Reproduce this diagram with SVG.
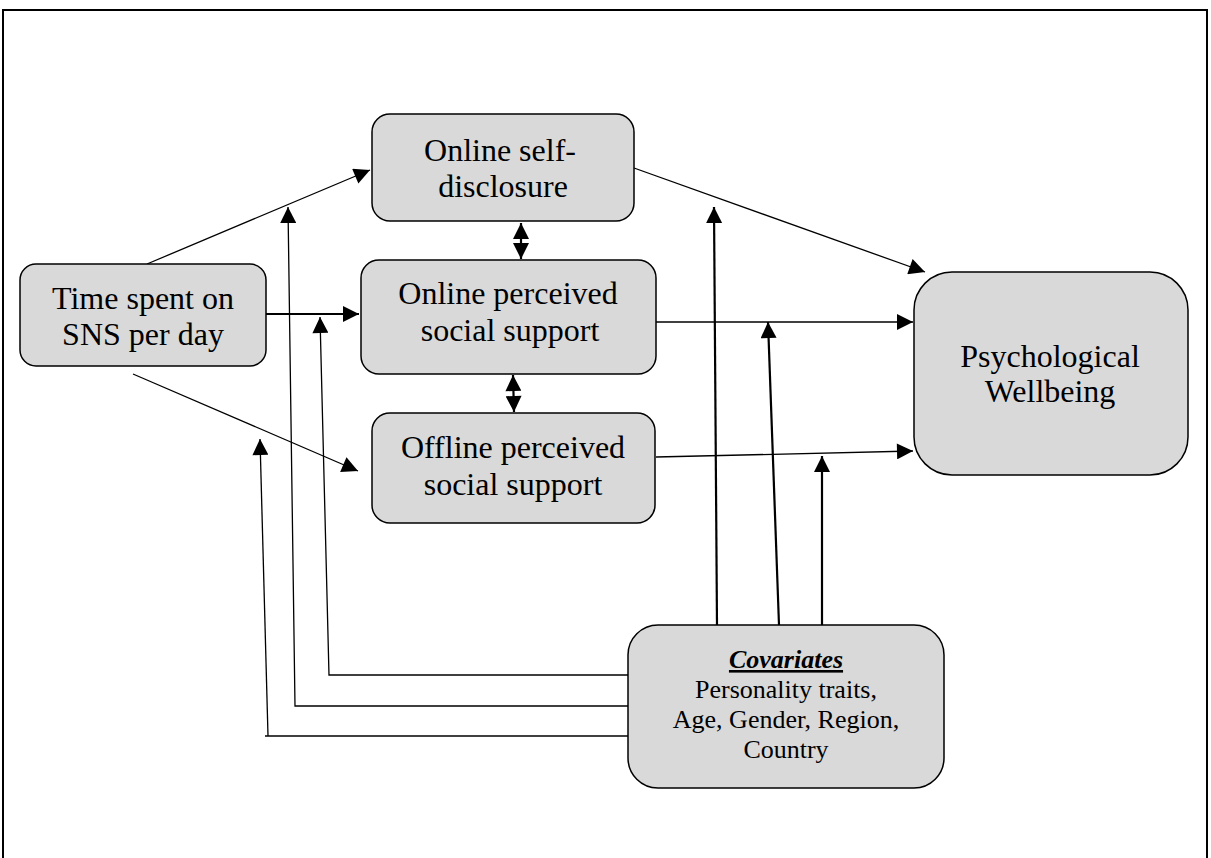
<svg xmlns="http://www.w3.org/2000/svg" width="1211" height="858" viewBox="0 0 1211 858">
<style>
.box{fill:#d9d9d9;stroke:#000;stroke-width:1.5}
.t{font-family:"Liberation Serif","Times New Roman",serif;font-size:32px;fill:#000;text-anchor:middle}
.s{font-family:"Liberation Serif","Times New Roman",serif;font-size:26px;fill:#000;text-anchor:middle}
.c{fill:none;stroke:#000;stroke-width:1.3}
.k{fill:none;stroke:#000;stroke-width:2.2}
</style>
<defs>
<marker id="ah" viewBox="0 0 10 10" refX="10" refY="5" markerWidth="20" markerHeight="16" markerUnits="userSpaceOnUse" orient="auto">
<path d="M0,0 L10,5 L0,10 Z" fill="#000"/>
</marker>
<marker id="as" viewBox="0 0 10 10" refX="0" refY="5" markerWidth="20" markerHeight="16" markerUnits="userSpaceOnUse" orient="auto">
<path d="M10,0 L0,5 L10,10 Z" fill="#000"/>
</marker>
</defs>
<rect x="3" y="10" width="1204" height="870" fill="#fff" stroke="#000" stroke-width="2"/>
<g id="connectors">
<line class="c" x1="147" y1="264" x2="370" y2="170" marker-end="url(#ah)"/>
<line class="k" x1="266" y1="314" x2="359" y2="314" marker-end="url(#ah)"/>
<line class="c" x1="133" y1="374" x2="358" y2="471" marker-end="url(#ah)"/>
<line class="c" x1="634" y1="168" x2="925" y2="272" marker-end="url(#ah)"/>
<line class="c" x1="656" y1="322" x2="913" y2="322" marker-end="url(#ah)"/>
<line class="c" x1="656" y1="457" x2="913" y2="451" marker-end="url(#ah)"/>
<line class="k" x1="521" y1="223" x2="521" y2="259" marker-start="url(#as)" marker-end="url(#ah)"/>
<line class="k" x1="513" y1="375" x2="514" y2="412" marker-start="url(#as)" marker-end="url(#ah)"/>
<line class="k" x1="717" y1="625" x2="714" y2="207" marker-end="url(#ah)"/>
<line class="k" x1="779" y1="625" x2="768" y2="322" marker-end="url(#ah)"/>
<line class="k" x1="822" y1="625" x2="822" y2="456" marker-end="url(#ah)"/>
<polyline class="c" points="628,675 329,675 320,317" marker-end="url(#ah)"/>
<polyline class="c" points="628,706 295,706 288,207" marker-end="url(#ah)"/>
<polyline class="c" points="628,736 265,736"/>
<line class="c" x1="268" y1="736" x2="260" y2="439" marker-end="url(#ah)"/>
</g>
<g id="node-time">
<rect class="box" x="20" y="264" width="246" height="102" rx="16"/>
<text class="t" x="143" y="309">Time spent on</text>
<text class="t" x="143" y="345">SNS per day</text>
</g>
<g id="node-selfdisclosure">
<rect class="box" x="372" y="114" width="262" height="107" rx="18"/>
<text class="t" x="500" y="161">Online self-</text>
<text class="t" x="503" y="197">disclosure</text>
</g>
<g id="node-online">
<rect class="box" x="361" y="260" width="295" height="114" rx="18"/>
<text class="t" x="508" y="304">Online perceived</text>
<text class="t" x="510" y="341">social support</text>
</g>
<g id="node-offline">
<rect class="box" x="372" y="413" width="283" height="110" rx="18"/>
<text class="t" x="513" y="458">Offline perceived</text>
<text class="t" x="513" y="495">social support</text>
</g>
<g id="node-wellbeing">
<rect class="box" x="914" y="272" width="274" height="203" rx="38"/>
<text class="t" x="1050" y="367">Psychological</text>
<text class="t" x="1050" y="402">Wellbeing</text>
</g>
<g id="node-covariates">
<rect class="box" x="628" y="625" width="316" height="163" rx="30"/>
<text class="s" x="786" y="668" font-weight="bold" font-style="italic" text-decoration="underline">Covariates</text>
<text class="s" x="786" y="698">Personality traits,</text>
<text class="s" x="786" y="728">Age, Gender, Region,</text>
<text class="s" x="786" y="758">Country</text>
</g>
</svg>
